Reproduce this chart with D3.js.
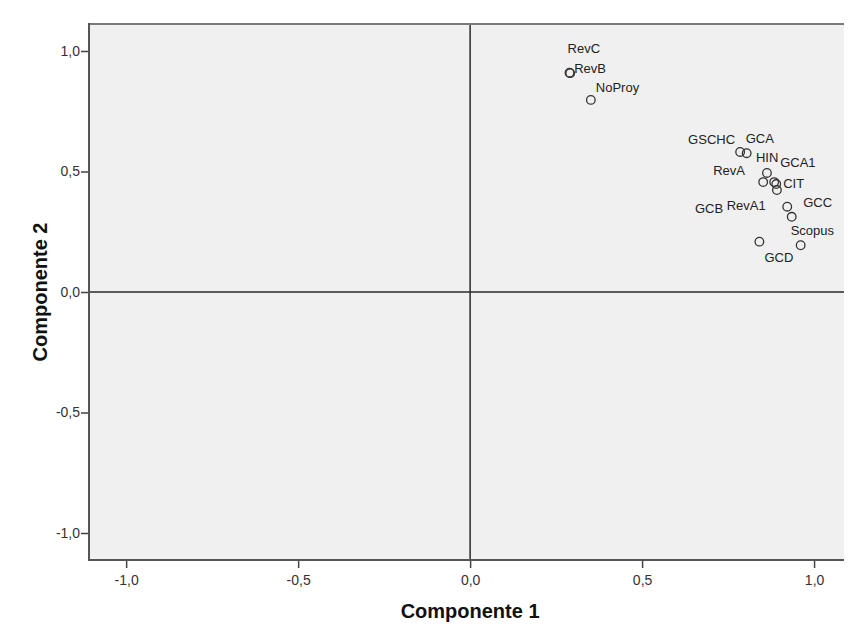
<!DOCTYPE html>
<html>
<head>
<meta charset="utf-8">
<script src="https://cdn.jsdelivr.net/npm/d3@7"></script>
<style>
  body { margin: 0; background: #fff; }
  svg { display: block; font-family: "Liberation Sans", Arial, sans-serif; }
</style>
</head>
<body>
<svg id="chart" width="860" height="642"></svg>
<script>
// ---- data ----
const labels = ["RevC", "RevB", "NoProy", "GSCHC", "GCA", "HIN", "RevA", "GCA1", "CIT", "GCB", "GCC", "RevA1", "GCD", "Scopus"];
const comp1  = [0.289, 0.291, 0.351, 0.785, 0.804, 0.863, 0.852, 0.884, 0.890, 0.892, 0.922, 0.935, 0.841, 0.961];
const comp2  = [0.910, 0.908, 0.797, 0.581, 0.576, 0.494, 0.456, 0.456, 0.448, 0.423, 0.354, 0.312, 0.209, 0.194];
const tickValues = [-1.0, -0.5, 0.0, 0.5, 1.0];
const tickLabels = ["-1,0", "-0,5", "0,0", "0,5", "1,0"];
const xTitle = "Componente 1";
const yTitle = "Componente 2";

// ---- layout (label placement offsets in px, start-anchored) ----
const labelOffsets = {
  RevC: [-2, -20], RevB: [4, 0], NoProy: [5, -8], GSCHC: [-52, -8], GCA: [-1, -10],
  HIN: [-11, -11], GCA1: [6, -15], RevA: [-50, -7], CIT: [7, 4], GCB: [-82, 23],
  RevA1: [-65, -7], GCC: [16, 0], Scopus: [-10, -10], GCD: [5, 20]
};

const svg = d3.select("#chart");
const L = 89, R = 844, T = 24, B = 560;

const x = d3.scaleLinear().domain([-1.108, 1.087]).range([L, R]);
const y = d3.scaleLinear().domain([-1.112, 1.112]).range([B, T]);

// plot background
svg.append("rect").attr("x", L).attr("y", T).attr("width", R - L).attr("height", B - T)
  .attr("fill", "#f0f0f0");

// zero reference lines
svg.append("line").attr("x1", x(0)).attr("x2", x(0)).attr("y1", T).attr("y2", B)
  .attr("stroke", "#2a2a2a").attr("stroke-width", 1.5);
svg.append("line").attr("x1", L).attr("x2", R).attr("y1", y(0)).attr("y2", y(0))
  .attr("stroke", "#2a2a2a").attr("stroke-width", 1.5);

// frame lines (top, left, bottom)
svg.append("line").attr("x1", L).attr("x2", R).attr("y1", T).attr("y2", T)
  .attr("stroke", "#7a7a7a").attr("stroke-width", 2);
svg.append("line").attr("x1", L).attr("x2", L).attr("y1", T - 1).attr("y2", B + 1)
  .attr("stroke", "#555").attr("stroke-width", 2);
svg.append("line").attr("x1", L).attr("x2", R).attr("y1", B).attr("y2", B)
  .attr("stroke", "#555").attr("stroke-width", 2);

// axes
const fmt = d => tickLabels[tickValues.indexOf(d)];
const xAxis = svg.append("g").attr("transform", `translate(0,${B + 1})`)
  .call(d3.axisBottom(x).tickValues(tickValues).tickFormat(fmt).tickSize(7).tickSizeOuter(0));
const yAxis = svg.append("g").attr("transform", `translate(${L - 1},0)`)
  .call(d3.axisLeft(y).tickValues(tickValues).tickFormat(fmt).tickSize(7).tickSizeOuter(0));
[xAxis, yAxis].forEach(g => {
  g.select(".domain").remove();
  g.selectAll(".tick line").attr("stroke", "#444").attr("stroke-width", 1.5);
  g.selectAll(".tick text").attr("fill", "#333").style("font-size", "14px")
    .style("font-family", "'Liberation Sans', Arial, sans-serif");
});
xAxis.selectAll(".tick text").attr("y", 11).attr("dy", "0.95em");
yAxis.selectAll(".tick text").attr("x", -8);

// axis titles
svg.append("text").attr("x", x(0)).attr("y", 618).attr("text-anchor", "middle")
  .attr("font-weight", "bold").attr("font-size", "20px").attr("fill", "#111").text(xTitle);
svg.append("text").attr("transform", `translate(47,${y(0)}) rotate(-90)`)
  .attr("text-anchor", "middle").attr("font-weight", "bold").attr("font-size", "20px")
  .attr("fill", "#111").text(yTitle);

// points
const pts = labels.map((l, i) => ({ label: l, c1: comp1[i], c2: comp2[i] }));
svg.append("g").selectAll("circle").data(pts).join("circle")
  .attr("cx", d => x(d.c1)).attr("cy", d => y(d.c2)).attr("r", 4.3)
  .attr("fill", "none").attr("stroke", "#333").attr("stroke-width", 1.3);

// labels
svg.append("g").selectAll("text").data(pts).join("text")
  .attr("x", d => x(d.c1) + labelOffsets[d.label][0])
  .attr("y", d => y(d.c2) + labelOffsets[d.label][1])
  .attr("font-size", "13px").attr("fill", "#222").text(d => d.label);
</script>
</body>
</html>
